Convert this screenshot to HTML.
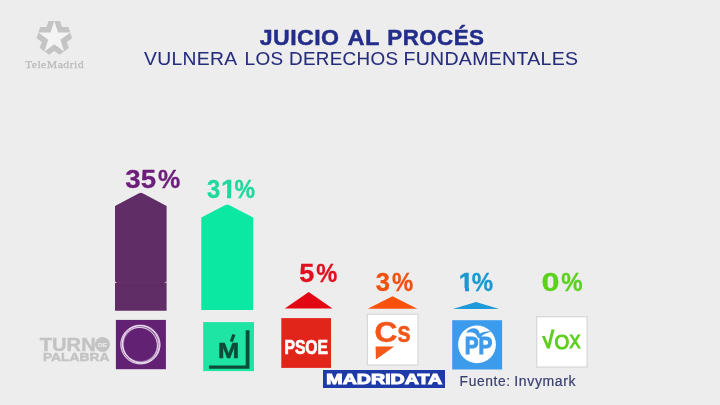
<!DOCTYPE html>
<html lang="es">
<head>
<meta charset="utf-8">
<title>Juicio al procés</title>
<style>
html,body{margin:0;padding:0;}
body{width:720px;height:405px;overflow:hidden;background:#ededed;position:relative;font-family:"Liberation Sans",sans-serif;}
.abs{position:absolute;left:0;white-space:nowrap;line-height:1;}
.t{transform-origin:0 0;display:inline-block;}
.box{position:absolute;box-sizing:border-box;}
#stage{position:absolute;left:0;top:0;width:720px;height:405px;overflow:hidden;filter:blur(0.4px);}
.ttl{font-size:21.8px;font-weight:bold;color:#232d8a;letter-spacing:0.4px;-webkit-text-stroke:0.45px #232d8a;}
.sub{font-size:17.5px;color:#262c7c;letter-spacing:0.3px;-webkit-text-stroke:0.08px #262c7c;}
.pct{font-weight:bold;font-size:25.6px;-webkit-text-stroke:0.3px currentColor;}
.tm{font-family:"Liberation Serif",serif;font-size:11px;color:#bababa;letter-spacing:0.45px;-webkit-text-stroke:0.25px #bababa;}
.turno{font-size:18.6px;font-weight:bold;color:#c3c3c3;-webkit-text-stroke:0.4px #c3c3c3;}
.palabra{font-size:11.2px;font-weight:bold;color:#c3c3c3;-webkit-text-stroke:0.4px #c3c3c3;}
.de{font-size:6px;font-weight:bold;color:#ededed;}
.mad{font-size:14.8px;font-weight:bold;color:#fff;-webkit-text-stroke:1px #fff;}
.mm{font-size:21.2px;font-weight:bold;color:#0b4c39;-webkit-text-stroke:0.5px #0b4c39;}
.psoe{font-size:19.8px;font-weight:bold;color:#fff;-webkit-text-stroke:0.7px #fff;}
.cs{font-size:29px;font-weight:bold;color:#f2561a;-webkit-text-stroke:0.4px #f2561a;}
.pp{font-size:23px;font-weight:bold;color:#3c9bea;-webkit-text-stroke:1px #3c9bea;}
.vox{color:#5ccf1c;-webkit-text-stroke:1.1px #5ccf1c;}
.fuente{font-size:13.8px;color:#3a4070;letter-spacing:0.6px;-webkit-text-stroke:0.2px #3a4070;}
</style>
</head>
<body>
<div id="stage">
<svg class="abs" style="left:0;top:0" width="720" height="405" viewBox="0 0 720 405">
  <defs><clipPath id="pent"><polygon points="66.51,21.00 42.09,21.00 34.55,44.22 54.30,58.57 74.05,44.22"/></clipPath></defs>
  <polygon clip-path="url(#pent)" fill="#c4c4c4" points="54.30,3.20 46.53,27.11 21.39,27.11 41.73,41.88 33.96,65.79 54.30,51.02 74.64,65.79 66.87,41.88 87.21,27.11 62.07,27.11"/>
  <polygon fill="#f4f4f4" points="54.30,21.00 50.53,32.61 38.32,32.61 48.20,39.78 44.43,51.39 54.30,44.22 64.17,51.39 60.40,39.78 70.28,32.61 58.07,32.61"/>
  <!-- bars -->
  <path fill="#612d66" d="M115,310.7 L115,206 L139,193.2 Q140.8,192.2 142.6,193.2 L166.6,206 L166.6,310.7 Z"/>
  <rect x="115" y="282" width="51.6" height="0.8" fill="#673269"/>
  <polygon fill="#ededed" points="114.9,281.5 117.2,282.3 114.9,283.1"/>
  <polygon fill="#ededed" points="166.7,281.5 164.4,282.3 166.7,283.1"/>
  <path fill="#0ae8a2" d="M201.3,310 L201.3,217.5 L225.4,205 Q227.2,204 229,205 L253.2,217.5 L253.2,310 Z"/>

  <!-- arrows -->
  <polygon fill="#e30613" points="308.7,292.1 332.5,308.6 284.8,308.6"/>
  <polygon fill="#f7510c" points="392.5,296.2 417.3,308.7 367.7,308.7"/>
  <polygon fill="#1d9ad9" points="476,302 499.2,308.9 452.8,308.9"/>

  <!-- Podemos -->
  <rect x="115.9" y="319.9" width="50" height="49.3" fill="#632174"/>
  <circle cx="140.4" cy="344.6" r="18.3" fill="none" stroke="#ffffff" stroke-opacity="0.3" stroke-width="3.6"/>
  <g fill="none" stroke="#f6eaf8" stroke-opacity="0.9" stroke-width="0.85">
    <ellipse cx="140.4" cy="344.6" rx="19.6" ry="19.2" transform="rotate(15 140.4 344.6)"/>
    <ellipse cx="140.7" cy="344.3" rx="18.2" ry="18.9" transform="rotate(-35 140.7 344.3)"/>
    <ellipse cx="140.1" cy="344.9" rx="17.9" ry="17" transform="rotate(50 140.1 344.9)"/>
  </g>

  <!-- Mas Madrid -->
  <rect x="203.2" y="322.1" width="50.8" height="49" fill="#1ee4a4"/>
  <path fill="#0b4c39" d="M245.7,330.2 h3.8 v38.6 h-40.5 v-3.3 h36.7 Z"/>
  <polygon fill="#0b4c39" points="232.4,333.9 235.5,334.9 232.7,342.1 229.7,341.3"/>

  <!-- PSOE -->
  <rect x="281.3" y="318.1" width="49.7" height="49.8" fill="#e1251b"/>

  <!-- Cs -->
  <rect x="367.4" y="314.2" width="50.6" height="50.8" fill="#ffffff" stroke="#d8d8d8" stroke-width="1.2"/>
  <polygon fill="#f4581b" points="375.6,346.5 394.2,346.5 375.9,359.4"/>

  <!-- PP -->
  <rect x="452.2" y="320.2" width="49.9" height="49.3" fill="#3c9bea"/>
  <circle cx="477" cy="344.4" r="18.9" fill="#ffffff"/>
  <path fill="#3c9bea" d="M466.2,332.8 C468.4,328.8 473.4,327.2 476.8,329 C478.6,330.1 479.4,331.9 479.7,333.8 C482.4,331.9 487,330.9 492.2,331.4 C488.2,332.3 484,333.8 481.6,336 C480.5,337.1 479.8,338 478.8,338 C477.5,337.8 477.2,336.4 476.3,335 C474.4,332 470.6,331.6 466.2,332.8 Z"/>

  <!-- VOX -->
  <rect x="536.7" y="316.7" width="50.4" height="50.4" fill="#ffffff" stroke="#d8d8d8" stroke-width="1.3"/>

</svg>
<div class="box" style="left:322.7px;top:370.3px;width:122.3px;height:17.3px;background:#1e3aa8;"></div>
<div class="box" style="left:95px;top:337px;width:15px;height:15px;border-radius:50%;background:#c3c3c3;"></div>
<div class="abs ttl" style="top:27px;"><span class="t" style="transform:translateX(259.70px) scaleX(1.062)">JUICIO</span></div>
<div class="abs ttl" style="top:27px;"><span class="t" style="transform:translateX(347.53px) scaleX(1.082)">AL</span></div>
<div class="abs ttl" style="top:27px;"><span class="t" style="transform:translateX(387.32px) scaleX(1.027)">PROCÉS</span></div>
<div class="abs sub" style="top:51px;"><span class="t" style="transform:translateX(144.10px) scaleX(1.101)">VULNERA</span></div>
<div class="abs sub" style="top:51px;"><span class="t" style="transform:translateX(244.55px) scaleX(1.081)">LOS</span></div>
<div class="abs sub" style="top:51px;"><span class="t" style="transform:translateX(289.06px) scaleX(1.075)">DERECHOS</span></div>
<div class="abs sub" style="top:51px;"><span class="t" style="transform:translateX(403.41px) scaleX(1.113)">FUNDAMENTALES</span></div>
<div class="abs tm" style="top:59px;"><span class="t" style="transform:translateX(24.90px) scaleX(1.064)">TeleMadrid</span></div>
<div class="abs pct" style="top:167px;color:#6c1f7a"><span class="t" style="transform:translateX(125.36px) scaleX(1.080)">35</span></div>
<div class="abs pct" style="top:167px;color:#6c1f7a"><span class="t" style="transform:translateX(157.91px) scaleX(0.979)">%</span></div>
<div class="abs pct" style="top:177px;color:#1fd89d"><span class="t" style="transform:translateX(220.91px) scaleX(1.061)">1</span></div>
<div class="box" style="left:221.59px;top:195.10px;width:5.47px;height:3.70px;background:#ededed;"></div>
<div class="box" style="left:231.15px;top:195.10px;width:4.98px;height:3.70px;background:#ededed;"></div>
<div class="abs pct" style="top:177px;color:#1fd89d"><span class="t" style="transform:translateX(207.03px) scaleX(0.931)">3</span></div>
<div class="abs pct" style="top:177px;color:#1fd89d"><span class="t" style="transform:translateX(234.55px) scaleX(0.901)">%</span></div>
<div class="abs pct" style="top:261px;color:#e0101e"><span class="t" style="transform:translateX(299.21px) scaleX(1.058)">5</span></div>
<div class="abs pct" style="top:261px;color:#e0101e"><span class="t" style="transform:translateX(316.24px) scaleX(0.924)">%</span></div>
<div class="abs pct" style="top:270px;color:#f0510f"><span class="t" style="transform:translateX(375.75px) scaleX(0.996)">3</span></div>
<div class="abs pct" style="top:270px;color:#f0510f"><span class="t" style="transform:translateX(392.03px) scaleX(0.933)">%</span></div>
<div class="abs pct" style="top:270px;color:#1a98d5"><span class="t" style="transform:translateX(458.41px) scaleX(1.061)">1</span></div>
<div class="box" style="left:459.09px;top:288.10px;width:5.47px;height:3.70px;background:#ededed;"></div>
<div class="box" style="left:468.65px;top:288.10px;width:4.98px;height:3.70px;background:#ededed;"></div>
<div class="abs pct" style="top:270px;color:#1a98d5"><span class="t" style="transform:translateX(471.63px) scaleX(0.938)">%</span></div>
<div class="abs pct" style="top:270px;color:#5ad21b"><span class="t" style="transform:translateX(541.55px) scaleX(1.264)">0</span></div>
<div class="abs pct" style="top:270px;color:#5ad21b"><span class="t" style="transform:translateX(561.23px) scaleX(0.938)">%</span></div>
<div class="abs turno" style="top:336px;"><span class="t" style="transform:translateX(39.75px) scaleX(1.084)">TURN</span></div>
<div class="abs de" style="top:342px;"><span class="t" style="transform:translateX(97.95px) scaleX(1.107)">DE</span></div>
<div class="abs palabra" style="top:352px;"><span class="t" style="transform:translateX(42.88px) scaleX(1.238)">PALABRA</span></div>
<div class="abs mad" style="top:372px;"><span class="t" style="transform:translateX(326.34px) scaleX(1.325)">MADRIDATA</span></div>
<div class="abs fuente" style="top:375px;"><span class="t" style="transform:translateX(459.60px) scaleX(1.001)">Fuente:</span></div>
<div class="abs fuente" style="top:375px;"><span class="t" style="transform:translateX(514.33px) scaleX(1.017)">Invymark</span></div>
<div class="abs mm" style="top:340px;"><span class="t" style="transform:translateX(218.10px) scaleX(1.200)">M</span></div>
<div class="abs psoe" style="top:338px;"><span class="t" style="transform:translateX(284.41px) scaleX(0.794)">PSOE</span></div>
<div class="abs cs" style="top:318px;"><span class="t" style="transform:translateX(374.40px) scaleX(1.096)">C</span></div>
<div class="abs cs" style="top:318px;"><span class="t" style="transform:translateX(397.17px) scaleX(0.841)">s</span></div>
<div class="abs pp" style="top:335px;"><span class="t" style="transform:translateX(464.80px) scaleX(0.899)">PP</span></div>
<div class="abs vox" style="top:326px;font-size:26px"><span class="t" style="transform:translateX(539.41px) skewX(4.6deg) scaleX(0.816)">V</span></div>
<div class="box" style="left:537.8px;top:328px;width:9.2px;height:8.3px;background:#ffffff;"></div>
<div class="abs vox" style="top:331px;font-size:21px"><span class="t" style="transform:translateX(554.45px) scaleX(0.903)">O</span></div>
<div class="abs vox" style="top:332px;font-size:19px"><span class="t" style="transform:translateX(569.43px) scaleX(0.858)">X</span></div>
</div>
</body>
</html>
